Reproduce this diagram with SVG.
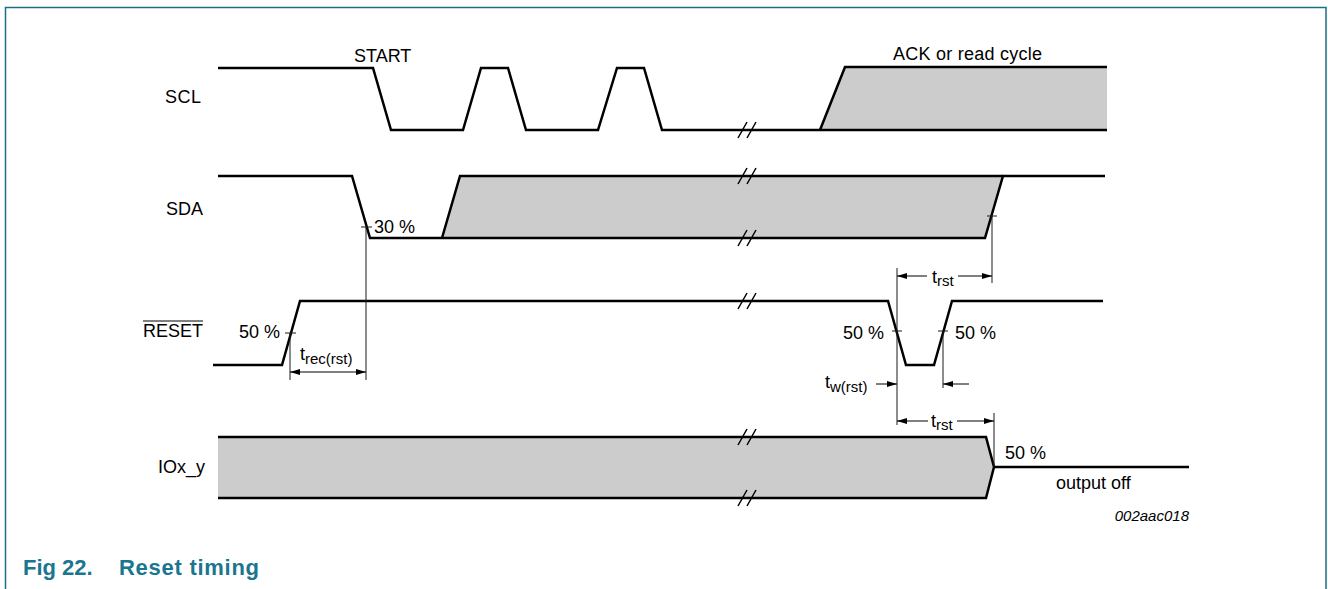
<svg xmlns="http://www.w3.org/2000/svg" width="1328" height="589" viewBox="0 0 1328 589">
<style>
text{font-family:"Liberation Sans",Arial,sans-serif;fill:#000}
.lbl{font-size:18px}
.sub{font-size:15px}
.sig{fill:none;stroke:#000;stroke-width:2.5;stroke-linejoin:miter}
.fill{fill:#cccccc;stroke:none}
.thin{fill:none;stroke:#1a1a1a;stroke-width:1}
.brk{fill:none;stroke:#000;stroke-width:1.5}
.dim{fill:none;stroke:#000;stroke-width:1;marker-end:url(#ah)}
.cap{font-size:22px;font-weight:bold;fill:#1a7590}
</style>
<defs>
<marker id="ah" viewBox="0 0 10 6" refX="10" refY="3" markerWidth="10" markerHeight="6" markerUnits="userSpaceOnUse" orient="auto-start-reverse"><path d="M0,0 L10,3 L0,6 z" fill="#000"/></marker>
</defs>
<rect width="1328" height="589" fill="#fff"/>
<path d="M5.5,589 V7.5 H1326 V589" fill="none" stroke="#1a7088" stroke-width="1.5"/>

<g id="scl">
<text class="lbl" x="201" y="103" text-anchor="end" textLength="36">SCL</text>
<text class="lbl" x="354" y="62">START</text>
<text class="lbl" x="893" y="60" textLength="149">ACK or read cycle</text>
<polygon class="fill" points="820,130 845,67 1107,67 1107,130"/>
<path class="sig" d="M218,68 H373 L391,130 H463 L481,68 H508 L526,130 H598 L617,68 H644 L662,130 H1107"/>
<path class="sig" d="M820,130 L845,67 H1107"/>
<path class="brk" d="M738,138 L747,122 M747,138 L756,122"/>
</g>

<g id="sda">
<text class="lbl" x="203" y="215" text-anchor="end">SDA</text>
<text class="lbl" x="374" y="233">30 %</text>
<polygon class="fill" points="442,238 460,176 1003,176 985,238"/>
<path class="sig" d="M218,176 H352 L370,238 H985 L1003,176 H1105"/>
<path class="sig" d="M442,238 L460,176 H1003"/>
<path class="brk" d="M738,184 L747,168 M747,184 L756,168 M738,246 L747,230 M747,246 L756,230"/>
<path class="thin" d="M361,227 H372 M987,216 H997"/>
</g>

<g id="reset">
<text class="lbl" x="203" y="337" text-anchor="end">RESET</text>
<line x1="143" y1="321" x2="203" y2="321" stroke="#000" stroke-width="1.2"/>
<text class="lbl" x="239" y="338">50 %</text>
<text class="lbl" x="843" y="339">50 %</text>
<text class="lbl" x="955" y="339">50 %</text>
<path class="sig" d="M213,365 H282 L300,301 H888 L906,365 H934 L952,301 H1103"/>
<path class="brk" d="M738,309 L747,293 M747,309 L756,293"/>
<path class="thin" d="M285,333 H296 M892,331 H902 M938,331 H948"/>
</g>

<g id="iox_y">
<text class="lbl" x="205" y="473" text-anchor="end">IOx_y</text>
<text class="lbl" x="1005" y="459">50 %</text>
<text class="lbl" x="1056" y="489">output off</text>
<polygon class="fill" points="218,437 986,437 994,467 986,498 218,498"/>
<path class="sig" d="M218,437 H986 L994,467 L986,498 H218"/>
<path class="sig" d="M994,467 H1189"/>
<path class="brk" d="M738,445 L747,429 M747,445 L756,429 M738,506 L747,490 M747,506 L756,490"/>
</g>

<g id="connectors">
<path class="thin" d="M366,227 V380 M290,333 V380 M992,216 V283 M897,268 V425 M943,331 V388 M994,413 V467"/>
<line x1="290" y1="372" x2="366" y2="372" stroke="#000" stroke-width="1" marker-start="url(#ah)" marker-end="url(#ah)"/>
<path class="dim" d="M927,276 H897"/>
<path class="dim" d="M958,276 H992"/>
<path class="dim" d="M876,384 H897"/>
<path class="dim" d="M969,384 H943"/>
<path class="dim" d="M928,421 H897"/>
<path class="dim" d="M957,421 H994"/>
<text class="lbl" x="300" y="360">t<tspan class="sub" dy="4">rec(rst)</tspan></text>
<text class="lbl" x="932" y="283">t<tspan class="sub" dy="3">rst</tspan></text>
<text class="lbl" x="931" y="427">t<tspan class="sub" dy="3">rst</tspan></text>
<text class="lbl" x="825" y="388">t<tspan class="sub" dy="4">w(rst)</tspan></text>
</g>

<text x="1189" y="521" text-anchor="end" font-size="15" font-style="italic">002aac018</text>
<text class="cap" x="23" y="575">Fig 22.</text>
<text class="cap" x="119" y="575" textLength="140">Reset timing</text>
</svg>
